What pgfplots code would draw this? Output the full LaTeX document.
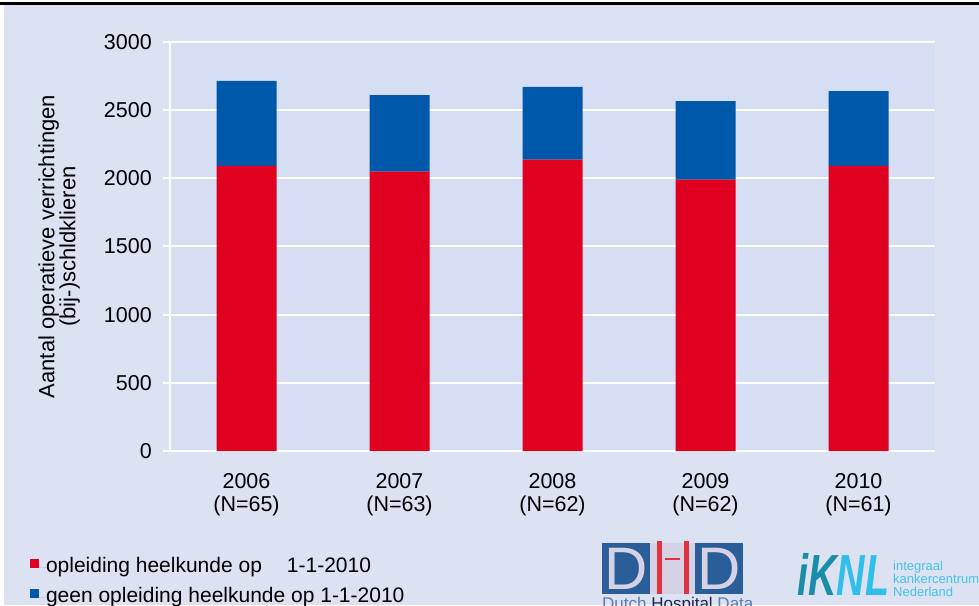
\documentclass[border=0pt]{standalone}
\usepackage{pgfplots}
\pgfplotsset{compat=1.18}
\usepackage{fontspec}
\setmainfont{Liberation Sans}
\definecolor{bgcol}{HTML}{DCE2F1}
\definecolor{plotbg}{HTML}{D5DEF2}
\definecolor{barred}{HTML}{E0001F}
\definecolor{barblue}{HTML}{0058AB}
\definecolor{dhdblue}{HTML}{2A5E98}
\definecolor{dhdlav}{HTML}{D6D2E6}
\definecolor{dhdred}{HTML}{E3323F}
\definecolor{dhdtext}{HTML}{5A7DB5}
\definecolor{dhdnavy}{HTML}{1B2550}
\definecolor{knlteal}{HTML}{1A8DA8}
\definecolor{knlcyan}{HTML}{2EC0EA}
\definecolor{knllight}{HTML}{45C4E8}
\begin{document}
\begin{tikzpicture}[x=1pt,y=1pt]
\useasboundingbox (0,0) rectangle (979,605);
\clip (0,0) rectangle (979,605);
\fill[white] (0,0) rectangle (979,605);
\fill[bgcol] (4,0) rectangle (979,600);
\fill[black] (0,600) rectangle (979,602.6);
% DHD logo
\fill[dhdblue] (602,11) rectangle (650,62);
\fill[dhdlav] (650,11) rectangle (695,62);
\fill[dhdblue] (695,11) rectangle (743,62);
\node[anchor=center, text=dhdlav, inner sep=0pt, font=\fontsize{60}{60}\selectfont] at (626,36.5) {D};
\node[anchor=center, text=dhdlav, inner sep=0pt, font=\fontsize{60}{60}\selectfont] at (719,36.5) {D};
\fill[dhdred] (657,11) rectangle (662,64);
\fill[dhdred] (684,11) rectangle (689,64);
\fill[dhdred] (665,45) rectangle (680,47.5);
\node[anchor=base west, inner sep=0pt, font=\fontsize{17}{17}\selectfont] at (602,-4)
  {\textcolor{dhdtext}{Dutch} \textcolor{dhdnavy}{Hospital} \textcolor{dhdtext}{Data}};
% KNL logo
\node[anchor=base west, inner sep=0pt, font=\fontsize{58}{58}\selectfont\bfseries\itshape] at (797,10)
  {\scalebox{0.68}[1]{\textcolor{knlteal}{iK}\textcolor{knlcyan}{NL}}};
\node[anchor=base west, inner sep=0pt, align=left, text=knllight, font=\fontsize{13}{13}\selectfont] at (893,9)
  {integraal\\kankercentrum\\Nederland};
\begin{axis}[
  at={(170pt,154pt)}, anchor=south west,
  scale only axis, width=765pt, height=409pt,
  ybar stacked, bar width=60pt,
  xmin=-0.5, xmax=4.5, ymin=0, ymax=3000,
  ytick={0,500,...,3000},
  xtick={0,1,2,3,4},
  xticklabels={{2006\\(N=65)},{2007\\(N=63)},{2008\\(N=62)},{2009\\(N=62)},{2010\\(N=61)}},
  xtick style={draw=none},
  extra x ticks={-0.5,0.5,1.5,2.5,3.5,4.5},
  extra x tick labels={},
  extra x tick style={grid=none, major tick length=7pt, tick style={white, line width=2pt}, tick align=outside},
  axis x line*=bottom, axis y line*=left,
  axis line style={white, line width=2pt, -},
  ymajorgrids, major grid style={white, line width=2pt},
  ytick style={white, line width=2pt}, major tick length=7pt, tick align=outside,
  axis background/.style={fill=plotbg},
  /pgf/number format/assume math mode=true,
  /pgf/number format/1000 sep={},
  tick label style={font=\fontsize{21.5}{23}\selectfont, text=black},
  yticklabel style={inner sep=0pt, xshift=-11pt, anchor=east},
  xticklabel style={inner sep=0pt, yshift=-15pt, align=center, anchor=north},
  ylabel={Aantal operatieve verrichtingen\\(bij-)schldklieren},
  ylabel style={at={(axis description cs:-0.145,0.5)}, anchor=center, align=center, font=\fontsize{22}{21}\selectfont},
  legend cell align=left,
  legend style={at={(axis description cs:-0.1830,-0.2616)}, anchor=north west,
    draw=none, fill=none, inner sep=0pt, outer sep=0pt, row sep=10pt,
    font=\fontsize{21}{23}\selectfont,
    nodes={inner sep=0pt, text height=15pt, text depth=5pt}},
  legend image code/.code={\fill[#1, draw=none] (0pt,0pt) rectangle (9pt,9pt); \path (0pt,0pt) -- (16pt,0pt);},
]
\addplot[fill=barred, draw=none] coordinates {(0,2092) (1,2049) (2,2138) (3,1990) (4,2092)};
\addplot[fill=barblue, draw=none] coordinates {(0,622) (1,562) (2,532) (3,576) (4,548)};
\legend{opleiding heelkunde op\hspace{25pt}1-1-2010, geen opleiding heelkunde op 1-1-2010}
\end{axis}
\end{tikzpicture}
\end{document}
